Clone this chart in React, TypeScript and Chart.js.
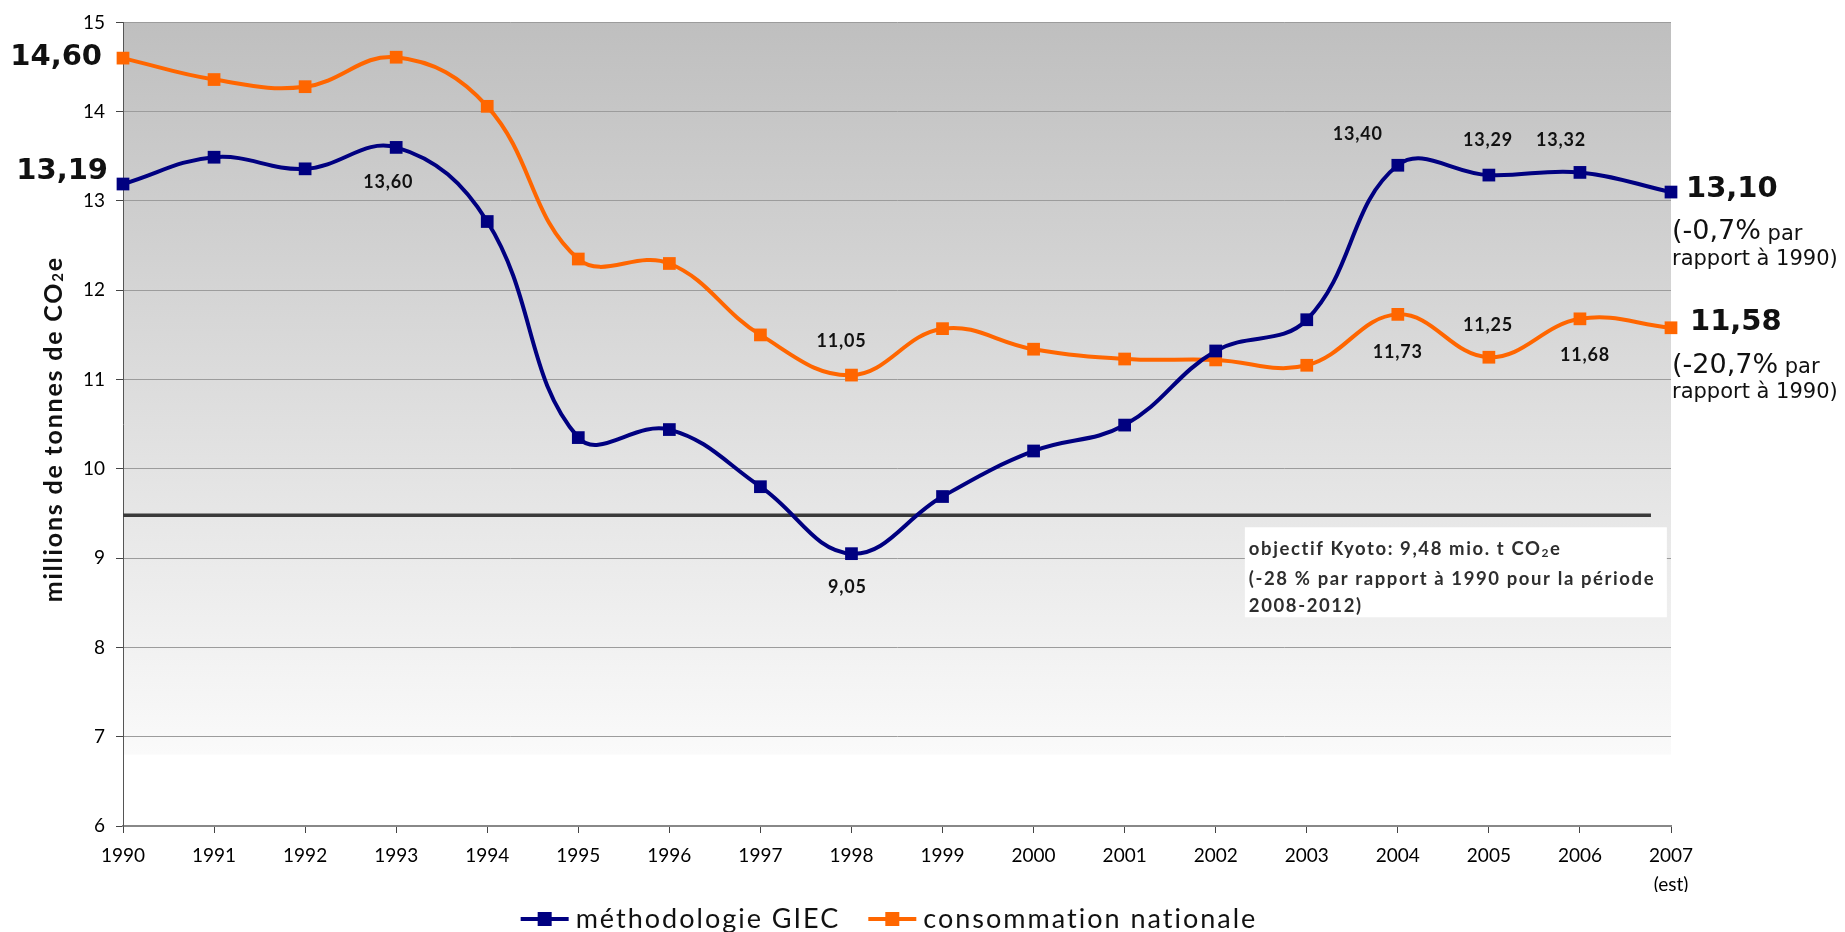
import React, { useEffect, useRef } from "react";
import { Chart, registerables } from "chart.js";

Chart.register(...registerables);

// ---------- data ----------
const years: (string | string[])[] = [
  "1990", "1991", "1992", "1993", "1994", "1995", "1996", "1997", "1998",
  "1999", "2000", "2001", "2002", "2003", "2004", "2005", "2006", ["2007", "(est)"],
];
const giec = [13.19, 13.49, 13.36, 13.60, 12.77, 10.35, 10.44, 9.80, 9.05, 9.69, 10.20, 10.49, 11.32, 11.67, 13.40, 13.29, 13.32, 13.10];
const conso = [14.60, 14.36, 14.28, 14.61, 14.06, 12.35, 12.30, 11.50, 11.05, 11.57, 11.34, 11.23, 11.22, 11.16, 11.73, 11.25, 11.68, 11.58];
const seriesNames = ["méthodologie GIEC", "consommation nationale"];
const kyotoTarget = 9.48;
const yTicks = { min: 6, max: 15, step: 1 };
const yTitle = "millions de tonnes de CO";

// ---------- styling ----------
const W = 1845;
const H = 932;
const BLUE = "#000080";
const ORANGE = "#ff6600";
const TXT = "#111";
const LATO = "Lato, 'Open Sans', sans-serif";
const DEJAVU = "'DejaVu Sans', Verdana, sans-serif";

const fmt = (v: number, d = 2) => v.toFixed(d).replace(".", ",");

// label placements (offsets relative to the point)
const smallLabels = [
  { ds: 0, i: 3, dx: -8, dy: 35 },
  { ds: 0, i: 8, dx: -4, dy: 34 },
  { ds: 0, i: 14, dx: -40, dy: -31 },
  { ds: 0, i: 15, dx: -1, dy: -35 },
  { ds: 0, i: 16, dx: -19, dy: -32 },
  { ds: 1, i: 8, dx: -10, dy: -34 },
  { ds: 1, i: 14, dx: 0, dy: 38 },
  { ds: 1, i: 15, dx: -1, dy: -32 },
  { ds: 1, i: 16, dx: 5, dy: 36 },
];
const startLabels = [
  { ds: 0, dx: -15, dy: -13 },
  { ds: 1, dx: -21, dy: -1 },
];
const endLabels = [
  { ds: 0, dx: 15, dy: -3 },
  { ds: 1, dx: 19, dy: -5 },
];

function setSpacing(ctx: any, px: number) {
  if ("letterSpacing" in ctx) ctx.letterSpacing = px + "px";
}

const bgPlugin = {
  id: "bgGradient",
  beforeDraw(chart: any) {
    const { ctx, chartArea: a, scales } = chart;
    const bottom = scales.y.getPixelForValue(6.8);
    const g = ctx.createLinearGradient(0, a.top, 0, bottom);
    g.addColorStop(0, "#bfbfbf");
    g.addColorStop(1, "#fafafa");
    ctx.save();
    ctx.fillStyle = g;
    ctx.fillRect(a.left, a.top, a.right - a.left, bottom - a.top);
    ctx.restore();
  },
};

const kyotoPlugin = {
  id: "kyoto",
  beforeDatasetsDraw(chart: any) {
    const { ctx, scales } = chart;
    const { x, y } = scales;
    const yk = y.getPixelForValue(kyotoTarget);
    ctx.save();
    ctx.strokeStyle = "#3a3a3a";
    ctx.lineWidth = 3.5;
    ctx.beginPath();
    ctx.moveTo(x.getPixelForValue(0), yk);
    ctx.lineTo(x.getPixelForValue(16.78), yk);
    ctx.stroke();

    // text box
    const bx = x.getPixelForValue(12.32);
    const by = yk + 12;
    ctx.fillStyle = "#ffffff";
    ctx.fillRect(bx, by, 422, 90);

    const pct = Math.round(((kyotoTarget - giec[0]) / giec[0]) * 100);
    ctx.fillStyle = "#2e2e2e";
    ctx.textBaseline = "middle";
    ctx.textAlign = "left";
    setSpacing(ctx, 1.6);
    ctx.font = `bold 18.5px ${LATO}`;
    const l1 = `objectif Kyoto: ${fmt(kyotoTarget)} mio. t CO`;
    const tx = bx + 4;
    ctx.fillText(l1, tx, by + 22);
    const w = ctx.measureText(l1).width;
    ctx.font = `bold 12px ${LATO}`;
    ctx.fillText("2", tx + w, by + 26);
    const w2 = ctx.measureText("2").width;
    ctx.font = `bold 18.5px ${LATO}`;
    ctx.fillText("e", tx + w + w2, by + 22);
    ctx.fillText(`(${pct} % par rapport à ${years[0]} pour la période`, tx, by + 52);
    ctx.fillText("2008-2012)", tx, by + 79);
    ctx.restore();
  },
};

const labelsPlugin = {
  id: "valueLabels",
  afterDatasetsDraw(chart: any) {
    const { ctx } = chart;
    ctx.save();
    ctx.fillStyle = TXT;
    ctx.textBaseline = "middle";
    // small labels
    ctx.font = `bold 18px ${LATO}`;
    ctx.textAlign = "center";
    setSpacing(ctx, 0.8);
    for (const l of smallLabels) {
      const p = chart.getDatasetMeta(l.ds).data[l.i];
      const v = chart.data.datasets[l.ds].data[l.i];
      ctx.fillText(fmt(v), p.x + l.dx, p.y + l.dy);
    }
    setSpacing(ctx, 0);
    // big start labels
    ctx.font = `bold 29px ${DEJAVU}`;
    ctx.textAlign = "right";
    for (const l of startLabels) {
      const p = chart.getDatasetMeta(l.ds).data[0];
      const v = chart.data.datasets[l.ds].data[0];
      ctx.fillText(fmt(v), p.x + l.dx, p.y + l.dy);
    }
    // big end labels + percentage
    const last = years.length - 1;
    const area = chart.chartArea;
    for (const l of endLabels) {
      const p = chart.getDatasetMeta(l.ds).data[last];
      const data = chart.data.datasets[l.ds].data;
      const v = data[last];
      const ly = p.y + l.dy;
      ctx.textAlign = "left";
      ctx.font = `bold 29px ${DEJAVU}`;
      ctx.fillText(fmt(v), p.x + l.dx, ly);
      const pct = ((v - data[0]) / data[0]) * 100;
      const s1 = `(${fmt(pct, 1)}%`;
      const x0 = area.right + 1;
      ctx.font = `27px ${DEJAVU}`;
      ctx.fillText(s1, x0, ly + 43);
      const w1 = ctx.measureText(s1).width;
      ctx.font = `21px ${DEJAVU}`;
      ctx.fillText(" par", x0 + w1, ly + 45);
      ctx.fillText(`rapport à ${years[0]})`, x0, ly + 70);
    }
    ctx.restore();
  },
};

const decorPlugin = {
  id: "decor",
  afterDraw(chart: any) {
    const { ctx, chartArea: a } = chart;
    ctx.save();
    // y axis title (rotated)
    ctx.fillStyle = TXT;
    ctx.textBaseline = "middle";
    ctx.textAlign = "left";
    setSpacing(ctx, 1.8);
    ctx.font = `bold 25px ${LATO}`;
    const wMain = ctx.measureText(yTitle).width;
    ctx.font = `bold 15px ${LATO}`;
    const wSub = ctx.measureText("2").width;
    ctx.font = `bold 25px ${LATO}`;
    const wE = ctx.measureText("e").width;
    const total = wMain + wSub + wE;
    ctx.translate(54, (a.top + a.bottom) / 2 + 5);
    ctx.rotate(-Math.PI / 2);
    let cx = -total / 2;
    ctx.fillText(yTitle, cx, 0);
    cx += wMain;
    ctx.font = `bold 15px ${LATO}`;
    ctx.fillText("2", cx, 4);
    cx += wSub;
    ctx.font = `bold 25px ${LATO}`;
    ctx.fillText("e", cx, 0);
    ctx.restore();

    // legend
    ctx.save();
    ctx.font = `27px ${LATO}`;
    setSpacing(ctx, 2);
    ctx.textBaseline = "middle";
    ctx.textAlign = "left";
    const marker = 48;
    const gapText = 7;
    const gapItem = 28;
    const ds = chart.data.datasets;
    const widths = ds.map((d: any) => ctx.measureText(d.label).width);
    let totalW = 0;
    widths.forEach((w: number, k: number) => {
      totalW += marker + gapText + w + (k > 0 ? gapItem : 0);
    });
    let lx = (a.left + a.right) / 2 - 8 - totalW / 2;
    const ly = 919;
    ds.forEach((d: any, k: number) => {
      ctx.strokeStyle = d.borderColor;
      ctx.lineWidth = 4;
      ctx.beginPath();
      ctx.moveTo(lx, ly);
      ctx.lineTo(lx + marker, ly);
      ctx.stroke();
      ctx.fillStyle = d.borderColor;
      ctx.fillRect(lx + marker / 2 - 7, ly - 7, 14, 14);
      ctx.fillStyle = TXT;
      ctx.fillText(d.label, lx + marker + gapText, ly);
      lx += marker + gapText + widths[k] + gapItem;
    });
    ctx.restore();
  },
};

export default function App() {
  const ref = useRef<HTMLCanvasElement>(null);
  useEffect(() => {
    if (!ref.current) return;
    const mkDs = (label: string, data: number[], color: string) => ({
      label,
      data,
      borderColor: color,
      backgroundColor: color,
      borderWidth: 4,
      tension: 0.4,
      pointStyle: "rect" as const,
      pointRadius: 9,
      pointHoverRadius: 9,
      pointBorderWidth: 0,
      pointBackgroundColor: color,
      clip: false as any,
    });
    const chart = new Chart(ref.current, {
      type: "line",
      data: {
        labels: years as any,
        datasets: [mkDs(seriesNames[0], giec, BLUE), mkDs(seriesNames[1], conso, ORANGE)],
      },
      options: {
        responsive: false,
        animation: false,
        devicePixelRatio: 1,
        events: [],
        layout: { padding: { left: 0, right: 174, top: 18, bottom: 40 } },
        plugins: { legend: { display: false }, tooltip: { enabled: false } },
        scales: {
          x: {
            type: "category",
            offset: false,
            grid: { display: true, drawOnChartArea: false, drawTicks: true, tickLength: 7, tickColor: "#444", offset: false },
            border: { display: true, color: "#888", width: 2 },
            ticks: {
              color: "#000",
              font: { family: LATO, size: 19, lineHeight: 1.5 },
              padding: 9,
              maxRotation: 0,
              autoSkip: false,
            },
            afterFit: (s: any) => { s.height = H - 826 - 40; },
          },
          y: {
            min: yTicks.min,
            max: yTicks.max,
            grid: { color: "#9c9c9c", lineWidth: 1, tickLength: 7, tickColor: "#444" },
            border: { display: true, color: "#555", width: 1 },
            ticks: {
              stepSize: yTicks.step,
              color: "#000",
              font: { family: LATO, size: 19 },
              padding: 11,
            },
            afterFit: (s: any) => { s.width = 123; },
          },
        },
      },
      plugins: [bgPlugin, kyotoPlugin, labelsPlugin, decorPlugin],
    });
    return () => chart.destroy();
  }, []);
  return (
    <div style={{ position: "absolute", left: 0, top: 0, width: W, height: H, overflow: "hidden", background: "#fff" }}>
      <canvas ref={ref} width={W} height={H} style={{ display: "block", width: W, height: H }} />
    </div>
  );
}
